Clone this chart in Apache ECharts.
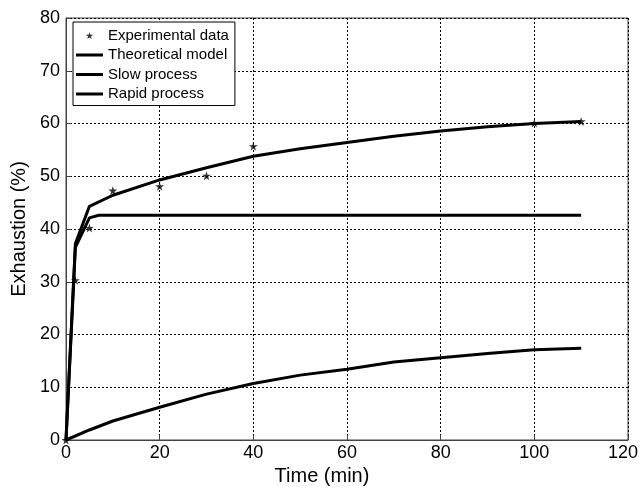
<!DOCTYPE html>
<html>
<head>
<meta charset="utf-8">
<script src="https://cdn.jsdelivr.net/npm/echarts@6/dist/echarts.min.js"></script>
<style>
  html, body { margin: 0; padding: 0; background: #fff; overflow: hidden; }
  #chart { width: 639px; height: 487px; }
</style>
</head>
<body>
<div id="chart"></div>
<script>
// values
const expTime = [0, 2, 5, 10, 20, 30, 40, 100, 110];
const expVal  = [0, 30.3, 40.2, 47.3, 48.1, 50.1, 55.7, 60.1, 60.4];

const modelTime = [0, 2, 5, 10, 20, 30, 40, 50, 60, 70, 80, 90, 100, 110];
const modelVal  = [0, 37.2, 44.3, 46.4, 49.3, 51.6, 53.8, 55.2, 56.4, 57.6, 58.6, 59.4, 60.0, 60.4];

const slowTime = [0, 5, 10, 20, 30, 40, 50, 60, 70, 80, 90, 100, 110];
const slowVal  = [0, 1.9, 3.6, 6.2, 8.7, 10.7, 12.3, 13.4, 14.8, 15.6, 16.4, 17.1, 17.4];

const rapidTime = [0, 2, 5, 7, 110];
const rapidVal  = [0, 36.5, 42.1, 42.6, 42.6];

const xTicks = [0, 20, 40, 60, 80, 100, 120];
const yTicks = [0, 10, 20, 30, 40, 50, 60, 70, 80];

const star = 'path://M50,0 L61,35 L98,35 L68,57 L79,91 L50,70 L21,91 L32,57 L2,35 L39,35 Z';
const bar = 'path://M0,0 H27 V3 H0 Z';

function pairs(xs, ys) { return xs.map((x, i) => [x, ys[i]]); }

const font = 'Liberation Sans, Arial, sans-serif';
const chart = echarts.init(document.getElementById('chart'));

const lineStyle = { color: '#000', width: 3 };

chart.setOption({
  backgroundColor: '#fff',
  animation: false,
  grid: {
    left: 66, right: 11, top: 18, bottom: 47, outerBoundsMode: 'none',
    show: true, borderColor: '#444', borderWidth: 1
  },
  legend: {
    left: 73, top: 22, orient: 'vertical',
    padding: [6, 6, 4, 3],
    itemWidth: 27, itemHeight: 7, itemGap: 4.5,
    backgroundColor: '#fff', borderColor: '#000', borderWidth: 1,
    itemStyle: { borderWidth: 0 },
    textStyle: { color: '#000', fontSize: 15, fontFamily: font, lineHeight: 15 },
    data: [
      { name: 'Experimental data', icon: star },
      { name: 'Theoretical model', icon: bar },
      { name: 'Slow process', icon: bar },
      { name: 'Rapid process', icon: bar }
    ]
  },
  xAxis: {
    type: 'value', min: 0, max: 120, interval: 20,
    name: 'Time (min)', nameLocation: 'middle', nameGap: 24,
    nameTextStyle: { color: '#000', fontSize: 20, fontFamily: font, padding: [0, 50, 0, 0] },
    axisLine: { lineStyle: { color: '#444' } },
    axisTick: { inside: true, length: 5, lineStyle: { color: '#444' } },
    axisLabel: {
      color: '#000', fontSize: 18, fontFamily: font, margin: 4,
      formatter: v => {
        if (!xTicks.includes(v)) return '';
        // last label sits a little left so it stays inside the picture
        return v === 120 ? '{last|' + v + '}' : String(v);
      },
      rich: { last: { color: '#000', fontSize: 18, fontFamily: font, padding: [0, 10, 0, 0] } }
    },
    splitLine: { show: true, lineStyle: { color: '#000', type: [2, 2], width: 1 } }
  },
  yAxis: {
    type: 'value', min: 0, max: 80, interval: 10,
    name: 'Exhaustion (%)', nameLocation: 'middle', nameGap: 36,
    nameTextStyle: { color: '#000', fontSize: 20, fontFamily: font },
    axisLine: { show: true, lineStyle: { color: '#444' } },
    axisTick: { show: true, inside: true, length: 5, lineStyle: { color: '#444' } },
    axisLabel: { color: '#000', fontSize: 18, fontFamily: font, margin: 6,
      formatter: v => yTicks.includes(v) ? String(v) : '' },
    splitLine: { show: true, lineStyle: { color: '#000', type: [2, 2], width: 1 } }
  },
  series: [
    {
      name: 'Experimental data', type: 'scatter', symbol: star, symbolSize: 9,
      itemStyle: { color: '#000' }, z: 5,
      data: pairs(expTime, expVal)
    },
    {
      name: 'Theoretical model', type: 'line', symbol: 'none', lineStyle,
      itemStyle: { color: '#000' }, data: pairs(modelTime, modelVal)
    },
    {
      name: 'Slow process', type: 'line', symbol: 'none', lineStyle,
      itemStyle: { color: '#000' }, data: pairs(slowTime, slowVal)
    },
    {
      name: 'Rapid process', type: 'line', symbol: 'none', lineStyle,
      itemStyle: { color: '#000' }, data: pairs(rapidTime, rapidVal)
    }
  ]
});
</script>
</body>
</html>
